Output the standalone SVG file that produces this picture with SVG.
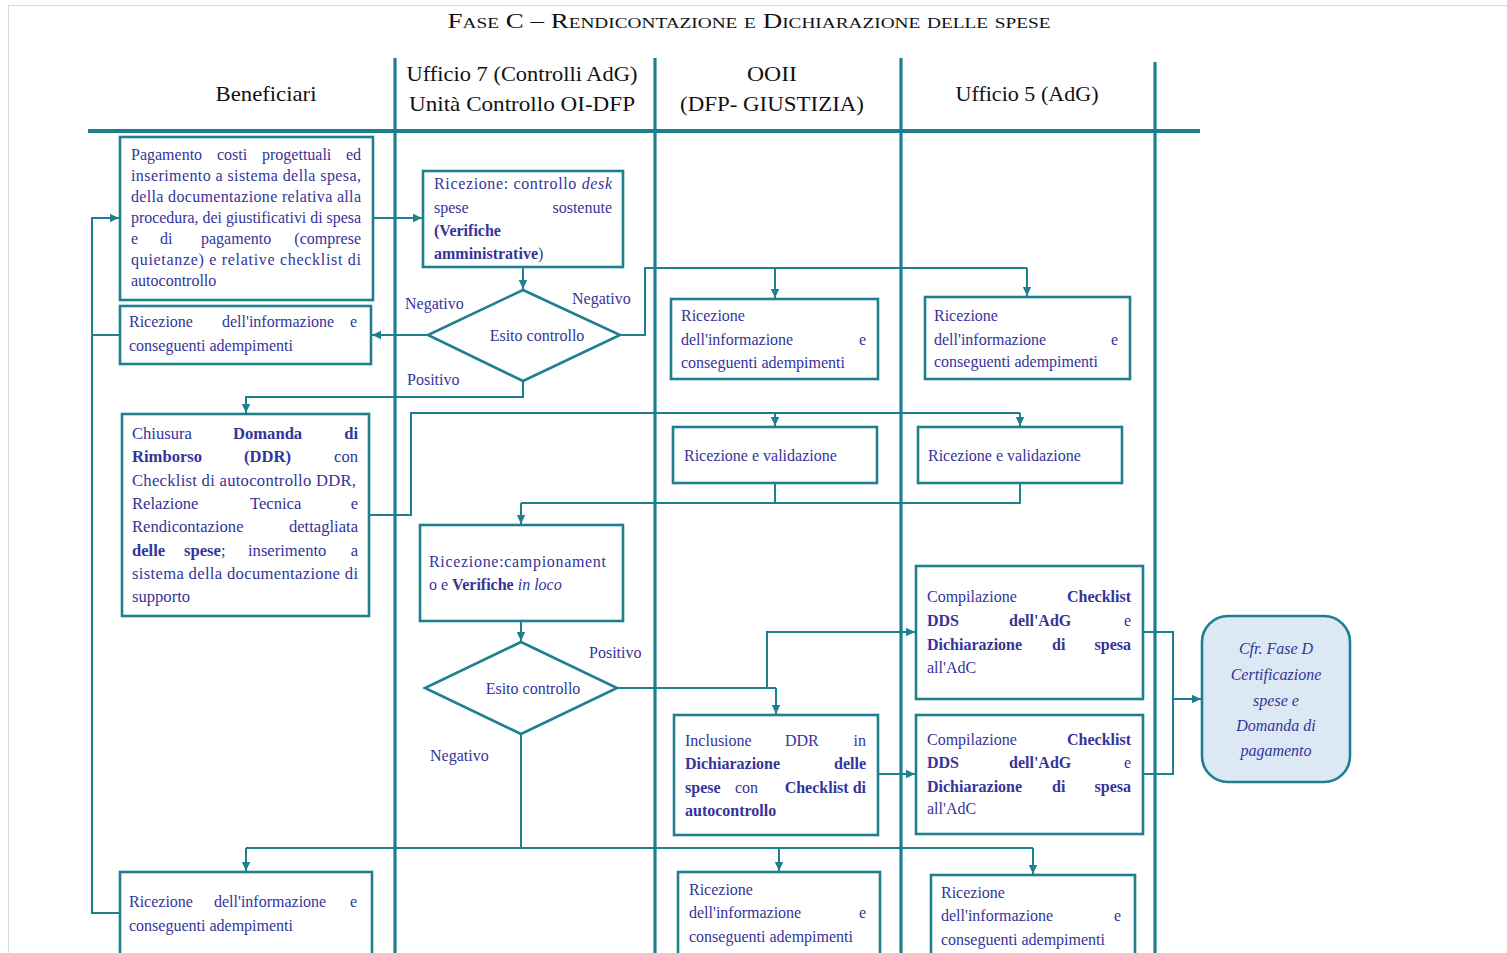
<svg xmlns="http://www.w3.org/2000/svg" width="1507" height="953" viewBox="0 0 1507 953">
  <defs>
    <style>
      .t{font-family:"Liberation Serif","Times New Roman",serif;font-size:16px;fill:#34349a}
      .d{font-size:16.6px}
      .h{font-family:"Liberation Serif","Times New Roman",serif;font-size:21px;fill:#111}
      .b{font-weight:bold}
      .i{font-style:italic}
      .e{text-anchor:end}
      .m{text-anchor:middle}
      .box{fill:#fff;stroke:#1e7f8f;stroke-width:2.6}
      .lane{stroke:#1e7f8f;stroke-width:3.2;fill:none}
      .conn{fill:none;stroke:#1e7f8f;stroke-width:2}
      .arr{fill:none;stroke:#1e7f8f;stroke-width:2;marker-end:url(#ah)}
    </style>
    <marker id="ah" markerUnits="userSpaceOnUse" markerWidth="10" markerHeight="10" refX="9" refY="5" orient="auto">
      <path d="M0,0.8 L9,5 L0,9.2 z" fill="#1e7f8f"/>
    </marker>
  </defs>

  <rect width="1507" height="953" fill="#fff"/>
  <rect x="8.5" y="5.5" width="1510" height="960" fill="none" stroke="#dadada" stroke-width="1"/>

  <!-- title -->
  <text x="749" y="28" class="h m" style="font-variant:small-caps" textLength="603" lengthAdjust="spacingAndGlyphs">Fase C – Rendicontazione e Dichiarazione delle spese</text>

  <!-- swimlane headers and separators -->
  <g id="lanes">
    <line class="lane" x1="88" y1="131" x2="1200" y2="131" style="stroke-width:4"/>
    <line class="lane" x1="395" y1="58" x2="395" y2="953"/>
    <line class="lane" x1="655" y1="58" x2="655" y2="953"/>
    <line class="lane" x1="901" y1="58" x2="901" y2="953"/>
    <line class="lane" x1="1155" y1="62" x2="1155" y2="953"/>
    <text class="h m" x="266" y="101" textLength="101" lengthAdjust="spacingAndGlyphs">Beneficiari</text>
    <text class="h m" x="522" y="81" textLength="231" lengthAdjust="spacingAndGlyphs">Ufficio 7 (Controlli AdG)</text>
    <text class="h m" x="522" y="111" textLength="226" lengthAdjust="spacingAndGlyphs">Unità Controllo OI-DFP</text>
    <text class="h m" x="772" y="81" textLength="50" lengthAdjust="spacingAndGlyphs">OOII</text>
    <text class="h m" x="772" y="111" textLength="184" lengthAdjust="spacingAndGlyphs">(DFP- GIUSTIZIA)</text>
    <text class="h m" x="1027" y="101" textLength="143" lengthAdjust="spacingAndGlyphs">Ufficio 5 (AdG)</text>
  </g>

  <!-- connectors -->
  <g id="connectors">
    <path class="arr" d="M373,218 H422"/>
    <path class="arr" d="M523,267 V289"/>
    <path class="arr" d="M428,335 H372"/>
    <path class="arr" d="M120,335 H92 V218 H119"/>
    <path class="conn" d="M92,335 V913 H120"/>
    <path class="conn" d="M620,335 H645 V268 H1027"/>
    <path class="arr" d="M775,268 V298"/>
    <path class="arr" d="M1027,268 V296"/>
    <path class="arr" d="M523,381 V397 H246 V413"/>
    <path class="conn" d="M369,515 H411 V413 H1020"/>
    <path class="arr" d="M775,413 V426"/>
    <path class="arr" d="M1020,413 V426"/>
    <path class="conn" d="M775,483 V503"/>
    <path class="conn" d="M1020,483 V503 H521"/>
    <path class="arr" d="M521,503 V524"/>
    <path class="arr" d="M521,621 V641"/>
    <path class="conn" d="M617,688 H776"/>
    <path class="arr" d="M767,688 V632 H915"/>
    <path class="arr" d="M776,688 V714"/>
    <path class="arr" d="M878,774 H915"/>
    <path class="conn" d="M1143,632 H1173 V774 H1143"/>
    <path class="arr" d="M1173,699 H1201"/>
    <path class="conn" d="M521,734 V848"/>
    <path class="conn" d="M246,848 H1033"/>
    <path class="arr" d="M246,848 V871"/>
    <path class="arr" d="M779,848 V871"/>
    <path class="arr" d="M1033,848 V874"/>
  </g>

  <!-- Beneficiari: payment and upload -->
  <g id="n-pagamento">
    <rect class="box" x="120" y="137" width="253" height="163"/>
    <text class="t" y="160"><tspan x="131">Pagamento</tspan><tspan x="217">costi</tspan><tspan x="262">progettuali</tspan><tspan x="361" class="e">ed</tspan></text>
    <text class="t" x="131" y="181" textLength="230" lengthAdjust="spacing">inserimento a sistema della spesa,</text>
    <text class="t" x="131" y="202" textLength="230" lengthAdjust="spacing">della documentazione relativa alla</text>
    <text class="t" x="131" y="223" textLength="230" lengthAdjust="spacingAndGlyphs">procedura, dei giustificativi di spesa</text>
    <text class="t" y="244"><tspan x="131">e</tspan><tspan x="160">di</tspan><tspan x="201">pagamento</tspan><tspan x="361" class="e">(comprese</tspan></text>
    <text class="t" x="131" y="265" textLength="230" lengthAdjust="spacing">quietanze) e relative checklist di</text>
    <text class="t" x="131" y="286">autocontrollo</text>
  </g>

  <!-- Ufficio 7: desk check -->
  <g id="n-desk">
    <rect class="box" x="423" y="171" width="200" height="96"/>
    <text class="t" x="434" y="189" textLength="178" lengthAdjust="spacing">Ricezione: controllo <tspan class="i">desk</tspan></text>
    <text class="t" y="213"><tspan x="434">spese</tspan><tspan x="612" class="e">sostenute</tspan></text>
    <text class="t b" x="434" y="236">(Verifiche</text>
    <text class="t" x="434" y="259"><tspan class="b">amministrative</tspan>)</text>
  </g>

  <g id="n-esito1">
    <polygon class="box" points="523,290 620,335 523,381 428,335"/>
    <text class="t m" x="537" y="341">Esito controllo</text>
    <text class="t" x="405" y="309">Negativo</text>
    <text class="t" x="572" y="304">Negativo</text>
    <text class="t" x="407" y="385">Positivo</text>
  </g>

  <g id="n-info-benef1">
    <rect class="box" x="120" y="306" width="251" height="58"/>
    <text class="t" y="327"><tspan x="129">Ricezione</tspan><tspan x="222">dell'informazione</tspan><tspan x="357" class="e">e</tspan></text>
    <text class="t" x="129" y="351">conseguenti adempimenti</text>
  </g>

  <g id="n-info-ooii1">
    <rect class="box" x="671" y="299" width="207" height="80"/>
    <text class="t" x="681" y="321">Ricezione</text>
    <text class="t" y="345"><tspan x="681">dell'informazione</tspan><tspan x="866" class="e">e</tspan></text>
    <text class="t" x="681" y="368">conseguenti adempimenti</text>
  </g>

  <g id="n-info-uff5-1">
    <rect class="box" x="925" y="297" width="205" height="82"/>
    <text class="t" x="934" y="321">Ricezione</text>
    <text class="t" y="345"><tspan x="934">dell'informazione</tspan><tspan x="1118" class="e">e</tspan></text>
    <text class="t" x="934" y="367">conseguenti adempimenti</text>
  </g>

  <!-- Beneficiari: DDR closure -->
  <g id="n-ddr">
    <rect class="box" x="122" y="414" width="247" height="202"/>
    <text class="t d" y="439"><tspan x="132">Chiusura</tspan><tspan x="233" class="b">Domanda</tspan><tspan x="358" class="e b">di</tspan></text>
    <text class="t d" y="462"><tspan x="132" class="b">Rimborso</tspan><tspan x="244" class="b">(DDR)</tspan><tspan x="358" class="e">con</tspan></text>
    <text class="t d" x="132" y="486" textLength="224" lengthAdjust="spacing">Checklist di autocontrollo DDR,</text>
    <text class="t d" y="509"><tspan x="132">Relazione</tspan><tspan x="250">Tecnica</tspan><tspan x="358" class="e">e</tspan></text>
    <text class="t d" y="532"><tspan x="132">Rendicontazione</tspan><tspan x="358" class="e">dettagliata</tspan></text>
    <text class="t d" y="556"><tspan x="132" class="b">delle</tspan><tspan x="184" class="b">spese</tspan>;<tspan x="248">inserimento</tspan><tspan x="358" class="e">a</tspan></text>
    <text class="t d" x="132" y="579" textLength="226" lengthAdjust="spacing">sistema della documentazione di</text>
    <text class="t d" x="132" y="602">supporto</text>
  </g>

  <g id="n-valid-ooii">
    <rect class="box" x="673" y="427" width="204" height="56"/>
    <text class="t" x="684" y="461">Ricezione e validazione</text>
  </g>

  <g id="n-valid-uff5">
    <rect class="box" x="918" y="427" width="204" height="56"/>
    <text class="t" x="928" y="461">Ricezione e validazione</text>
  </g>

  <!-- Ufficio 7: sampling and on-site checks -->
  <g id="n-loco">
    <rect class="box" x="420" y="525" width="203" height="96"/>
    <text class="t" x="429" y="567" textLength="177" lengthAdjust="spacing">Ricezione:campionament</text>
    <text class="t" x="429" y="590">o e <tspan class="b">Verifiche</tspan> <tspan class="i">in loco</tspan></text>
  </g>

  <g id="n-esito2">
    <polygon class="box" points="521,642 617,688 521,734 425,688"/>
    <text class="t m" x="533" y="694">Esito controllo</text>
    <text class="t" x="589" y="658">Positivo</text>
    <text class="t" x="430" y="761">Negativo</text>
  </g>

  <g id="n-inclusione">
    <rect class="box" x="674" y="715" width="204" height="120"/>
    <text class="t" y="746"><tspan x="685">Inclusione</tspan><tspan x="785">DDR</tspan><tspan x="866" class="e">in</tspan></text>
    <text class="t b" y="769"><tspan x="685">Dichiarazione</tspan><tspan x="866" class="e">delle</tspan></text>
    <text class="t" y="793"><tspan x="685" class="b">spese</tspan><tspan x="735">con</tspan><tspan x="866" class="e b">Checklist di</tspan></text>
    <text class="t b" x="685" y="816">autocontrollo</text>
  </g>

  <g id="n-checklist1">
    <rect class="box" x="916" y="566" width="227" height="133"/>
    <text class="t" y="602"><tspan x="927">Compilazione</tspan><tspan x="1131" class="e b">Checklist</tspan></text>
    <text class="t b" y="626"><tspan x="927">DDS</tspan><tspan x="1009">dell'AdG</tspan><tspan x="1131" class="e" style="font-weight:normal">e</tspan></text>
    <text class="t b" y="650"><tspan x="927">Dichiarazione</tspan><tspan x="1052">di</tspan><tspan x="1131" class="e">spesa</tspan></text>
    <text class="t" x="927" y="673">all'AdC</text>
  </g>

  <g id="n-checklist2">
    <rect class="box" x="916" y="715" width="227" height="119"/>
    <text class="t" y="745"><tspan x="927">Compilazione</tspan><tspan x="1131" class="e b">Checklist</tspan></text>
    <text class="t b" y="768"><tspan x="927">DDS</tspan><tspan x="1009">dell'AdG</tspan><tspan x="1131" class="e" style="font-weight:normal">e</tspan></text>
    <text class="t b" y="792"><tspan x="927">Dichiarazione</tspan><tspan x="1052">di</tspan><tspan x="1131" class="e">spesa</tspan></text>
    <text class="t" x="927" y="814">all'AdC</text>
  </g>

  <g id="n-fase-d">
    <rect x="1202" y="616" width="148" height="166" rx="26" ry="26" fill="#dce8f4" stroke="#1e7f8f" stroke-width="2.6"/>
    <text class="t i m" x="1276" y="654">Cfr. Fase D</text>
    <text class="t i m" x="1276" y="680">Certificazione</text>
    <text class="t i m" x="1276" y="706">spese e</text>
    <text class="t i m" x="1276" y="731">Domanda di</text>
    <text class="t i m" x="1276" y="756">pagamento</text>
  </g>

  <g id="n-info-benef2">
    <rect class="box" x="120" y="872" width="252" height="100"/>
    <text class="t" y="907"><tspan x="129">Ricezione</tspan><tspan x="214">dell'informazione</tspan><tspan x="357" class="e">e</tspan></text>
    <text class="t" x="129" y="931">conseguenti adempimenti</text>
  </g>

  <g id="n-info-ooii2">
    <rect class="box" x="678" y="872" width="202" height="100"/>
    <text class="t" x="689" y="895">Ricezione</text>
    <text class="t" y="918"><tspan x="689">dell'informazione</tspan><tspan x="866" class="e">e</tspan></text>
    <text class="t" x="689" y="942">conseguenti adempimenti</text>
  </g>

  <g id="n-info-uff5-2">
    <rect class="box" x="931" y="875" width="204" height="100"/>
    <text class="t" x="941" y="898">Ricezione</text>
    <text class="t" y="921"><tspan x="941">dell'informazione</tspan><tspan x="1121" class="e">e</tspan></text>
    <text class="t" x="941" y="945">conseguenti adempimenti</text>
  </g>
</svg>
